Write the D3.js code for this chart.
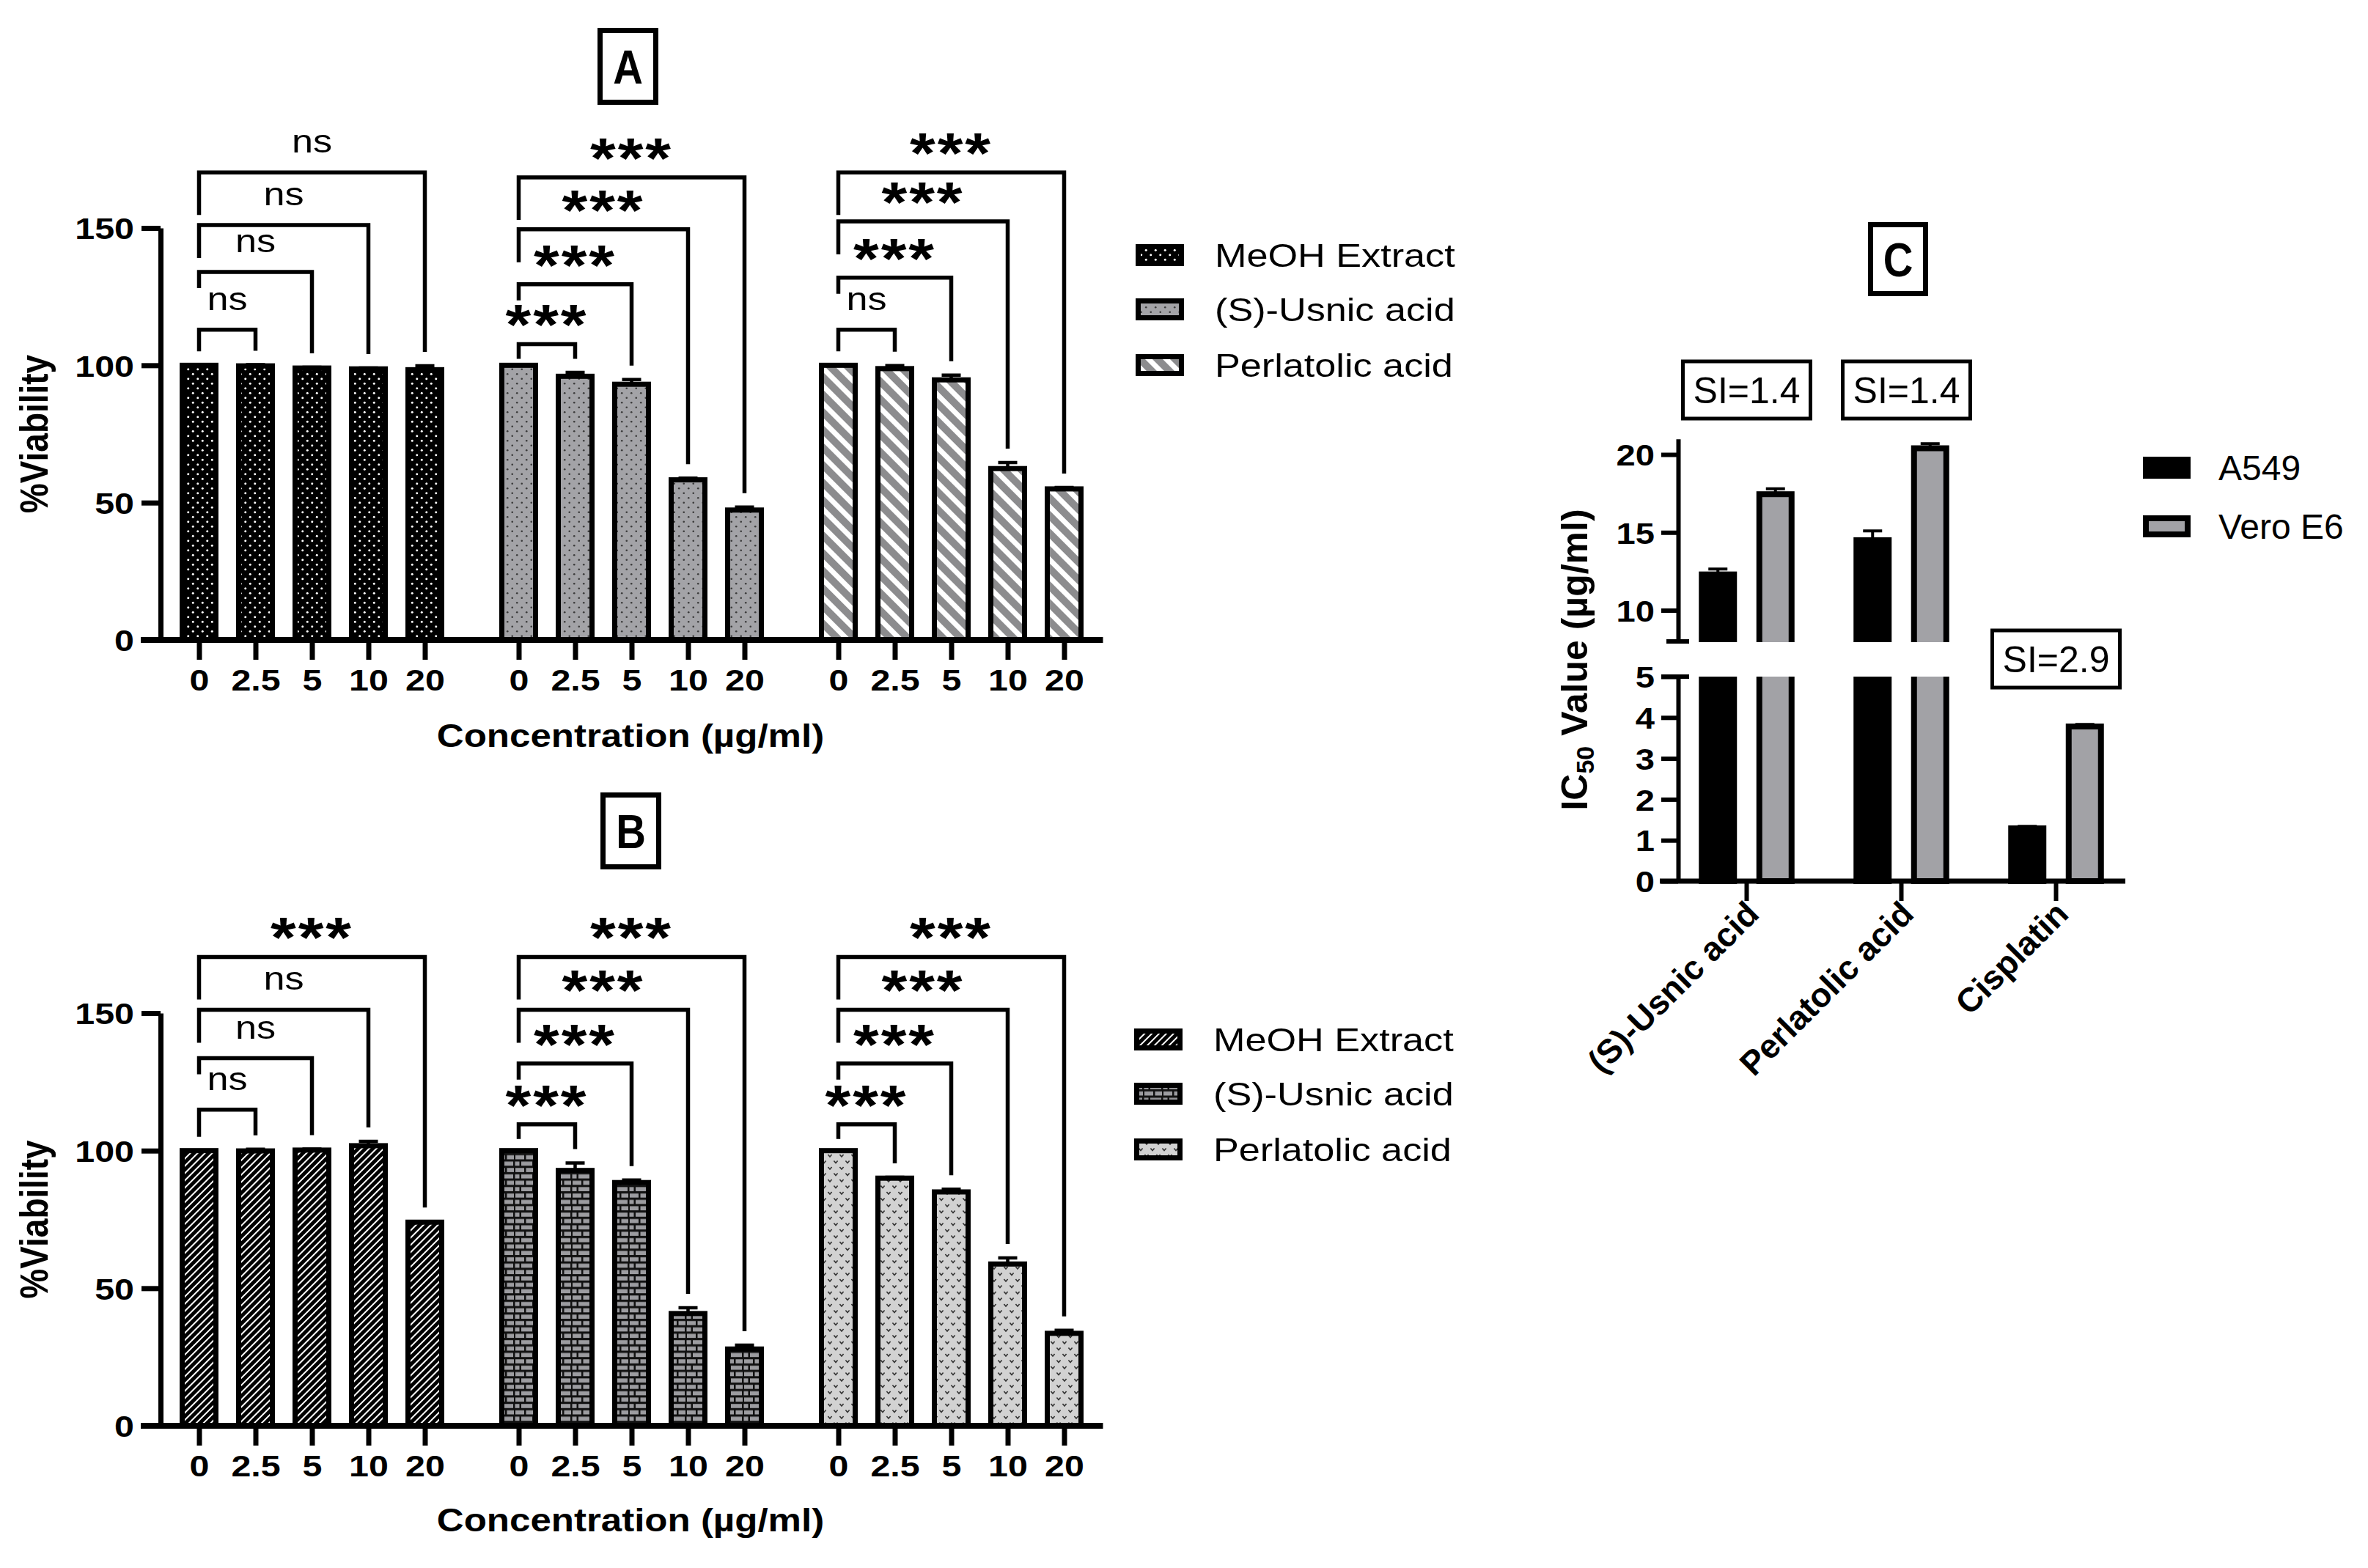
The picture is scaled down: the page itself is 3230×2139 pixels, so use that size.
<!DOCTYPE html>
<html>
<head>
<meta charset="utf-8">
<script src="https://cdn.jsdelivr.net/npm/d3@7"></script>
<style>
body { margin: 0; background: #fff; }
text { fill: #000; }
</style>
</head>
<body>
<script>
// ---- data ----
var concLabels = ["0", "2.5", "5", "10", "20"];
var treatments = ["MeOH Extract", "(S)-Usnic acid", "Perlatolic acid"];
var viabTicks = [0, 50, 100, 150];

// panel A (%viability, mean and error)
var viabA = [[100, 99.8, 99.0, 98.7, 98.4], [100, 96.0, 93.1, 58.3, 47.3], [100, 98.8, 94.7, 62.4, 55.0]];
var errA = [[0, 0.4, 0.3, 0.3, 1.4], [0, 1.4, 1.7, 0.6, 1.1], [0, 1.1, 1.7, 2.2, 0.5]];
var sigA = [["ns", "ns", "ns", "ns"], ["***", "***", "***", "***"], ["ns", "***", "***", "***"]];
var bracketA = [[113.0, 134.0, 151.1, 170.2], [107.7, 129.5, 149.5, 168.4], [113.0, 131.9, 152.4, 170.2]];

// panel B
var viabB = [[100, 99.9, 100.2, 101.8, 74.0], [100, 92.8, 88.4, 40.8, 27.9], [100, 90.0, 85.0, 58.8, 33.6]];
var errB = [[0, 0.6, 0.4, 1.6, 0.3], [0, 2.7, 0.9, 2.1, 1.4], [0, 0.3, 1.0, 2.2, 1.1]];
var sigB = [["ns", "ns", "ns", "***"], ["***", "***", "***", "***"], ["***", "***", "***", "***"]];
var bracketB = [[114.9, 133.6, 151.2, 170.4], [109.6, 131.7, 151.2, 170.4], [109.6, 131.7, 151.2, 170.4]];

// panel C (IC50, ug/ml)
var icCompounds = ["(S)-Usnic acid", "Perlatolic acid", "Cisplatin"];
var cellLines = ["A549", "Vero E6"];
var ic50A549 = [12.3, 14.5, 1.29];
var ic50A549Err = [0.35, 0.6, 0.05];
var ic50Vero = [17.45, 20.4, 3.78];
var ic50VeroErr = [0.35, 0.3, 0.05];
var siLabels = ["SI=1.4", "SI=1.4", "SI=2.9"];
var icTicksUpper = [10, 15, 20];
var icTicksLower = [0, 1, 2, 3, 4, 5];

// ---- setup ----
var W = 3230, H = 2139;
var FONT = "'Liberation Sans', Arial, Helvetica, sans-serif";
var SX = 1.16; // panels A/B are a little wider than tall in the source

var svg = d3.select("body").append("svg")
  .attr("width", W).attr("height", H)
  .attr("font-family", FONT);
svg.append("rect").attr("width", W).attr("height", H).attr("fill", "#fff");

var defs = svg.append("defs");

function dotPattern(id, bg, dot, r) {
  var p = defs.append("pattern").attr("id", id)
    .attr("patternUnits", "userSpaceOnUse").attr("width", 13).attr("height", 13);
  p.append("rect").attr("width", 13).attr("height", 13).attr("fill", bg);
  [[3.25, 3.25], [9.75, 9.75]].forEach(function(c) {
    p.append("circle").attr("cx", c[0]).attr("cy", c[1]).attr("r", r).attr("fill", dot);
  });
}
dotPattern("pA0", "#000", "#fff", 1.5);
dotPattern("pA1", "#a3a3a7", "#3a3a3a", 1.3);

// grey / white "\" stripes
var ps = defs.append("pattern").attr("id", "pA2")
  .attr("patternUnits", "userSpaceOnUse").attr("width", 17).attr("height", 17)
  .attr("patternTransform", "rotate(-45)");
ps.append("rect").attr("width", 17).attr("height", 17).attr("fill", "#fff");
ps.append("rect").attr("width", 10).attr("height", 17).attr("fill", "#8c8c8e");

// black with thin white "/" hatching
var ph = defs.append("pattern").attr("id", "pB0")
  .attr("patternUnits", "userSpaceOnUse").attr("width", 7).attr("height", 7)
  .attr("patternTransform", "rotate(45)");
ph.append("rect").attr("width", 7).attr("height", 7).attr("fill", "#000");
ph.append("rect").attr("width", 2).attr("height", 7).attr("fill", "#fff");

// brick
var pb = defs.append("pattern").attr("id", "pB1")
  .attr("patternUnits", "userSpaceOnUse").attr("width", 26).attr("height", 17.4);
pb.append("rect").attr("width", 26).attr("height", 17.4).attr("fill", "#111");
[[0.5, 1.2, 6], [9, 1.2, 15], [1, 9.9, 12], [15.5, 9.9, 9.5]].forEach(function(b) {
  pb.append("rect").attr("x", b[0]).attr("y", b[1]).attr("width", b[2]).attr("height", 5.6).attr("fill", "#9c9ca0");
});

// light grey with small "v" marks
var pv = defs.append("pattern").attr("id", "pB2")
  .attr("patternUnits", "userSpaceOnUse").attr("width", 16).attr("height", 17);
pv.append("rect").attr("width", 16).attr("height", 17).attr("fill", "#d2d2d2");
[[4, 4], [12, 12.5]].forEach(function(c) {
  pv.append("path").attr("d", "M" + (c[0] - 2.6) + "," + (c[1] - 1.6) + "L" + c[0] + "," + (c[1] + 1.6) + "L" + (c[0] + 2.6) + "," + (c[1] - 1.6))
    .attr("fill", "none").attr("stroke", "#333").attr("stroke-width", 1.6);
});

function label(parent, str, x, y, o) {
  o = o || {};
  var tr = "translate(" + x + "," + y + ")";
  if (o.rot) tr += " rotate(" + o.rot + ")";
  tr += " scale(" + (o.sx || 1) + "," + (o.sy || 1) + ")";
  return parent.append("text")
    .attr("transform", tr)
    .attr("text-anchor", o.anchor || "middle")
    .attr("font-size", o.size || 45)
    .attr("font-weight", o.bold ? "bold" : "normal")
    .attr("letter-spacing", o.ls || null)
    .text(str);
}

function titleBox(letter, x, y, w, h) {
  svg.append("rect").attr("x", x).attr("y", y).attr("width", w).attr("height", h)
    .attr("fill", "#fff").attr("stroke", "#000").attr("stroke-width", 7);
  label(svg, letter, x + w / 2, y + h / 2 + 23, { size: 64, bold: true, sx: 0.88 });
}

// ---- panels A and B ----
var SLOT = 77, GROUP_STEP = 436 / 77;
function barIndex(g, i) { return g * GROUP_STEP + i; }
var leftLegs = [0, 22, 45, 58];

function viabilityPanel(cfg) {
  var g = svg.append("g");
  var y = d3.scaleLinear().domain([0, 150]).range([cfg.y0, cfg.y150]);
  var x = d3.scaleLinear().domain([0, 1]).range([271.5, 271.5 + SLOT]);
  var axisX = 219;

  var bars = [];
  cfg.vals.forEach(function(row, gi) {
    row.forEach(function(v, i) { bars.push({ g: gi, i: i, v: v, e: cfg.errs[gi][i] }); });
  });

  g.selectAll("rect.bar").data(bars).join("rect").attr("class", "bar")
    .attr("x", function(d) { return x(barIndex(d.g, d.i)) - 23; })
    .attr("width", 46)
    .attr("y", function(d) { return y(d.v); })
    .attr("height", function(d) { return y(0) - y(d.v); })
    .attr("fill", function(d) { return "url(#" + cfg.pat[d.g] + ")"; })
    .attr("stroke", "#000").attr("stroke-width", 7);

  g.selectAll("path.err").data(bars.filter(function(d) { return d.e > 0; })).join("path").attr("class", "err")
    .attr("d", function(d) {
      var xc = x(barIndex(d.g, d.i)), yt = y(d.v + d.e);
      return "M" + xc + "," + y(d.v) + "V" + yt + "M" + (xc - 13) + "," + yt + "H" + (xc + 13);
    })
    .attr("fill", "none").attr("stroke", "#000").attr("stroke-width", 4.5);

  // comparison brackets against the 0 ug/ml bar
  for (var gi = 0; gi < 3; gi++) {
    var x0 = x(barIndex(gi, 0));
    var top0 = y(cfg.vals[gi][0] + cfg.errs[gi][0]);
    for (var k = 1; k <= 4; k++) {
      var xk = x(barIndex(gi, k));
      var yt = y(cfg.levels[gi][k - 1]);
      var rightEnd = Math.max(yt + 20, y(cfg.vals[gi][k] + cfg.errs[gi][k]) - 19);
      var leftEnd = k === 1 ? Math.max(yt + 20, top0 - 19) : yt + leftLegs[k - 1];
      g.append("path")
        .attr("d", "M" + x0 + "," + leftEnd + "V" + yt + "H" + xk + "V" + rightEnd)
        .attr("fill", "none").attr("stroke", "#000").attr("stroke-width", 5.5);
      var s = cfg.sig[gi][k - 1];
      var xm = (x0 + xk) / 2;
      if (s === "ns") label(g, s, xm, yt - 27, { size: 45, sx: SX });
      else label(g, s, xm, yt + 1, { size: 77, bold: true, sx: SX, ls: 2.5 });
    }
  }

  // y axis
  var ya = g.append("g").attr("transform", "translate(" + axisX + ",0)")
    .call(d3.axisLeft(y).tickValues(viabTicks).tickSize(26).tickSizeOuter(0));
  ya.attr("font-family", FONT);
  ya.select(".domain").attr("stroke-width", 7);
  ya.selectAll(".tick line").attr("stroke-width", 7);
  ya.selectAll(".tick text")
    .attr("x", -36 / 1.18).attr("dy", "0.36em")
    .attr("transform", "scale(1.18,1)")
    .attr("font-size", 41).attr("font-weight", "bold");

  // x axis
  var idx = [];
  for (var a = 0; a < 3; a++) for (var b = 0; b < 5; b++) idx.push(barIndex(a, b));
  var xa = g.append("g").attr("transform", "translate(0," + y(0) + ")")
    .call(d3.axisBottom(x).tickValues(idx).tickSize(27).tickFormat(function(d, i) { return concLabels[i % 5]; }));
  xa.attr("font-family", FONT);
  xa.select(".domain").remove();
  xa.selectAll(".tick line").attr("stroke-width", 7);
  xa.selectAll(".tick text")
    .attr("y", 69).attr("dy", 0)
    .attr("transform", "scale(1.18,1)")
    .attr("font-size", 41).attr("font-weight", "bold");
  g.append("line").attr("x1", axisX - 27).attr("x2", x(barIndex(2, 4)) + 53)
    .attr("y1", y(0)).attr("y2", y(0)).attr("stroke", "#000").attr("stroke-width", 8);

  label(g, "Concentration (\u00b5g/ml)", 860, cfg.xTitleY, { size: 44, bold: true, sx: SX });
  label(g, "%Viability", 65, (y(0) + y(150)) / 2, { size: 46, bold: true, rot: -90, sy: SX });

  // legend
  cfg.legendY.forEach(function(ly, i) {
    g.append("rect").attr("x", cfg.legendX + 3.5).attr("y", ly - 11.5).attr("width", 59).attr("height", 23)
      .attr("fill", "url(#" + cfg.pat[i] + ")").attr("stroke", "#000").attr("stroke-width", 7);
    label(g, treatments[i], cfg.legendX + 108, ly + 16, { size: 45, sx: SX, anchor: "start" });
  });
}

viabilityPanel({
  y0: 873, y150: 311, vals: viabA, errs: errA, sig: sigA, levels: bracketA,
  pat: ["pA0", "pA1", "pA2"], xTitleY: 1019, legendX: 1549, legendY: [348, 422, 498]
});
viabilityPanel({
  y0: 1945, y150: 1382, vals: viabB, errs: errB, sig: sigB, levels: bracketB,
  pat: ["pB0", "pB1", "pB2"], xTitleY: 2089, legendX: 1547, legendY: [1418, 1492, 1568]
});

titleBox("A", 818.5, 41.5, 76, 98);
titleBox("B", 822.5, 1084.5, 76, 98);

// ---- panel C ----
var gc = svg.append("g");
var cAxisX = 2289;
var yU = d3.scaleLinear().domain([8, 21]).range([875, 598.75]);
var yL = d3.scaleLinear().domain([0, 5]).range([1202, 923]);
var xc = d3.scaleBand().domain(icCompounds).range([2277, 2910]);
var xs = d3.scaleBand().domain(cellLines).range([27, 184]);

defs.append("clipPath").attr("id", "clipUp").append("rect")
  .attr("x", 2200).attr("y", 560).attr("width", 800).attr("height", 876 - 560);
defs.append("clipPath").attr("id", "clipLow").append("rect")
  .attr("x", 2200).attr("y", 923).attr("width", 800).attr("height", 290);

var icBars = [];
icCompounds.forEach(function(c, i) {
  icBars.push({ c: c, line: "A549", v: ic50A549[i], e: ic50A549Err[i], fill: "#000" });
  icBars.push({ c: c, line: "Vero E6", v: ic50Vero[i], e: ic50VeroErr[i], fill: "#a2a2a6" });
});
function icX(d) { return xc(d.c) + xs(d.line) + xs.bandwidth() / 2; }

gc.append("g").attr("clip-path", "url(#clipUp)")
  .selectAll("rect").data(icBars.filter(function(d) { return d.v > 8; })).join("rect")
  .attr("x", function(d) { return icX(d) - 22; }).attr("width", 44)
  .attr("y", function(d) { return yU(d.v); })
  .attr("height", function(d) { return yU(8) + 30 - yU(d.v); })
  .attr("fill", function(d) { return d.fill; })
  .attr("stroke", "#000").attr("stroke-width", 8);
gc.append("g").attr("clip-path", "url(#clipLow)")
  .selectAll("rect").data(icBars).join("rect")
  .attr("x", function(d) { return icX(d) - 22; }).attr("width", 44)
  .attr("y", function(d) { return yL(Math.min(d.v, 5.6)); })
  .attr("height", function(d) { return yL(0) - yL(Math.min(d.v, 5.6)); })
  .attr("fill", function(d) { return d.fill; })
  .attr("stroke", "#000").attr("stroke-width", 8);

gc.selectAll("path.err").data(icBars).join("path").attr("class", "err")
  .attr("d", function(d) {
    var sc = d.v > 8 ? yU : yL, xm = icX(d), yt = sc(d.v + d.e);
    return "M" + xm + "," + sc(d.v) + "V" + yt + "M" + (xm - 13) + "," + yt + "H" + (xm + 13);
  })
  .attr("fill", "none").attr("stroke", "#000").attr("stroke-width", 4);

function styleCAxis(ax) {
  ax.attr("font-family", FONT);
  ax.select(".domain").attr("stroke-width", 6);
  ax.selectAll(".tick line").attr("stroke-width", 6);
  ax.selectAll(".tick text")
    .attr("x", -32 / 1.15).attr("dy", "0.36em")
    .attr("transform", "scale(1.15,1)")
    .attr("font-size", 41).attr("font-weight", "bold");
}
styleCAxis(gc.append("g").attr("transform", "translate(" + cAxisX + ",0)")
  .call(d3.axisLeft(yU).tickValues(icTicksUpper).tickSize(23).tickSizeOuter(0).tickFormat(d3.format("d"))));
styleCAxis(gc.append("g").attr("transform", "translate(" + cAxisX + ",0)")
  .call(d3.axisLeft(yL).tickValues(icTicksLower).tickSize(23).tickSizeOuter(0).tickFormat(d3.format("d"))));
// break end marks
[yU(8), yL(5)].forEach(function(yy, i) {
  gc.append("line").attr("x1", cAxisX - (i === 0 ? 16 : 23)).attr("x2", cAxisX + 15)
    .attr("y1", yy).attr("y2", yy).attr("stroke", "#000").attr("stroke-width", 6);
});

var xca = gc.append("g").attr("transform", "translate(0," + yL(0) + ")")
  .call(d3.axisBottom(xc).tickSize(27));
xca.attr("font-family", FONT);
xca.select(".domain").remove();
xca.selectAll(".tick line").attr("stroke-width", 6);
xca.selectAll(".tick text")
  .attr("x", 0).attr("y", 0).attr("dy", "0.35em")
  .attr("transform", "translate(8,36) rotate(-45)")
  .attr("text-anchor", "end")
  .attr("font-size", 46).attr("font-weight", "bold");
gc.append("line").attr("x1", cAxisX - 25).attr("x2", 2899)
  .attr("y1", yL(0)).attr("y2", yL(0)).attr("stroke", "#000").attr("stroke-width", 7);

// y title with subscript
var yt = gc.append("text")
  .attr("transform", "translate(2165,900) rotate(-90)")
  .attr("text-anchor", "middle").attr("font-size", 50).attr("font-weight", "bold");
yt.append("tspan").text("IC");
yt.append("tspan").attr("font-size", 34).attr("dy", 9).text("50");
yt.append("tspan").attr("dy", -9).text(" Value (\u00b5g/ml)");

// SI boxes
var siBoxY = [532, 532, 899];
siLabels.forEach(function(s, i) {
  var cx = xc(icCompounds[i]) + xc.bandwidth() / 2 + (i === 1 ? 7 : 0);
  gc.append("rect").attr("x", cx - 87).attr("y", siBoxY[i] - 39).attr("width", 174).attr("height", 78)
    .attr("fill", "#fff").attr("stroke", "#000").attr("stroke-width", 5);
  label(gc, s, cx, siBoxY[i] + 18, { size: 50 });
});

// legend C
[["A549", "#000", 638], ["Vero E6", "#a2a2a6", 718]].forEach(function(l) {
  gc.append("rect").attr("x", 2927).attr("y", l[2] - 11).attr("width", 57).attr("height", 22)
    .attr("fill", l[1]).attr("stroke", "#000").attr("stroke-width", 8);
  label(gc, l[0], 3026, l[2] + 17, { size: 48, anchor: "start" });
});

titleBox("C", 2551.5, 306.5, 75, 94);
</script>
</body>
</html>
